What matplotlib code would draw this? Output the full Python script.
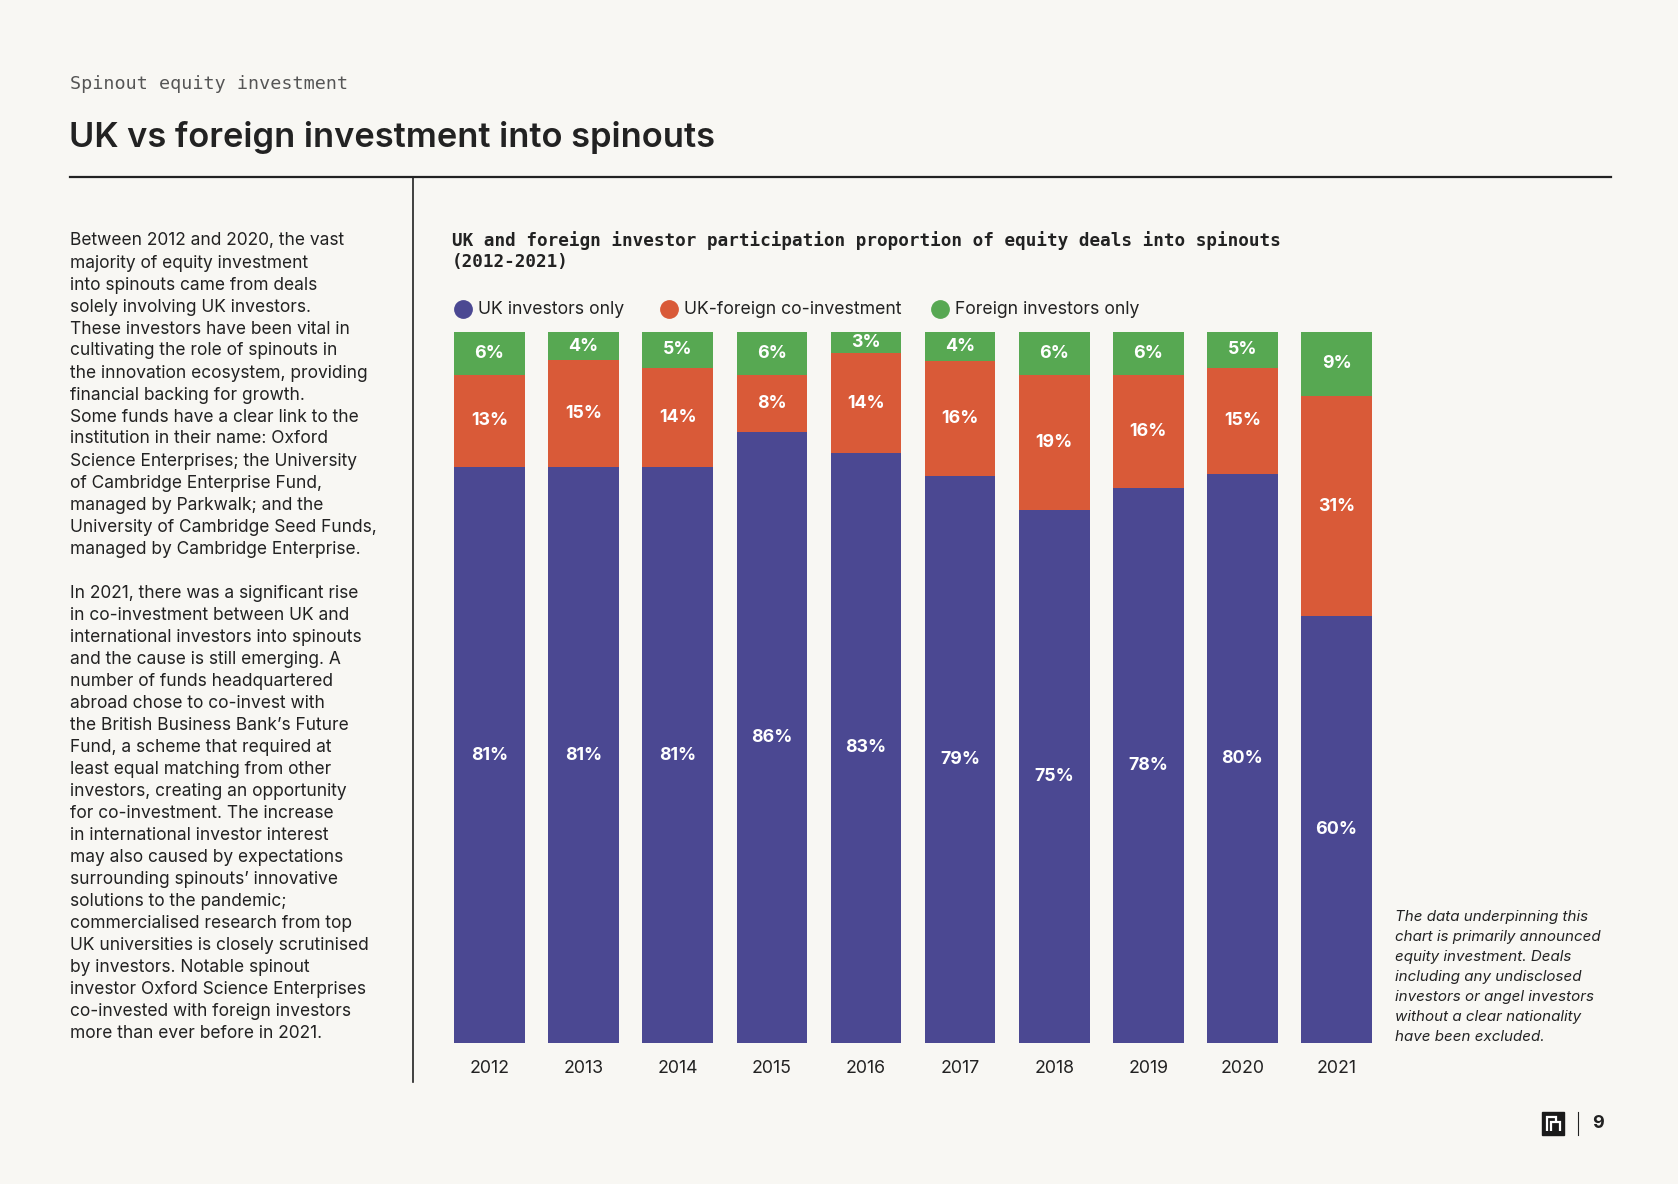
import matplotlib.pyplot as plt
from matplotlib.lines import Line2D
from matplotlib.patches import Rectangle
import numpy as np

# Data
years = ['2012', '2013', '2014', '2015', '2016', '2017', '2018', '2019', '2020', '2021']
uk_only = [81, 81, 81, 86, 83, 79, 75, 78, 80, 60]
co_invest = [13, 15, 14, 8, 14, 16, 19, 16, 15, 31]
foreign_only = [6, 4, 5, 6, 3, 4, 6, 6, 5, 9]
series_names = ['UK investors only', 'UK-foreign co-investment', 'Foreign investors only']

para1 = [
    "Between 2012 and 2020, the vast",
    "majority of equity investment",
    "into spinouts came from deals",
    "solely involving UK investors.",
    "These investors have been vital in",
    "cultivating the role of spinouts in",
    "the innovation ecosystem, providing",
    "financial backing for growth.",
    "Some funds have a clear link to the",
    "institution in their name: Oxford",
    "Science Enterprises; the University",
    "of Cambridge Enterprise Fund,",
    "managed by Parkwalk; and the",
    "University of Cambridge Seed Funds,",
    "managed by Cambridge Enterprise.",
]
para2 = [
    "In 2021, there was a significant rise",
    "in co-investment between UK and",
    "international investors into spinouts",
    "and the cause is still emerging. A",
    "number of funds headquartered",
    "abroad chose to co-invest with",
    "the British Business Bank\u2019s Future",
    "Fund, a scheme that required at",
    "least equal matching from other",
    "investors, creating an opportunity",
    "for co-investment. The increase",
    "in international investor interest",
    "may also caused by expectations",
    "surrounding spinouts\u2019 innovative",
    "solutions to the pandemic;",
    "commercialised research from top",
    "UK universities is closely scrutinised",
    "by investors. Notable spinout",
    "investor Oxford Science Enterprises",
    "co-invested with foreign investors",
    "more than ever before in 2021.",
]
footnote = [
    "The data underpinning this",
    "chart is primarily announced",
    "equity investment. Deals",
    "including any undisclosed",
    "investors or angel investors",
    "without a clear nationality",
    "have been excluded.",
]

# Colours
bg = '#F8F7F3'
ink = '#222222'
colors = ['#4B4892', '#D95A38', '#57A852']

W, H = 1678, 1184
fig = plt.figure(figsize=(W / 100, H / 100), dpi=100, facecolor=bg)


def fx(px):
    return px / W


def fy(py):
    return 1 - py / H


sans = 'Inter'
mono = 'DejaVu Sans Mono'

# Header
fig.text(fx(70), fy(84), "Spinout equity investment", family=mono, fontsize=13.2,
         color='#555555', va='center', ha='left')
fig.text(fx(69), fy(137), "UK vs foreign investment into spinouts", family=sans,
         fontsize=24.8, fontweight='semibold', color=ink, va='center', ha='left')
fig.add_artist(Line2D([fx(70), fx(1611)], [fy(177), fy(177)], color=ink, lw=1.6))
fig.add_artist(Line2D([fx(413), fx(413)], [fy(177), fy(1082)], color=ink, lw=1.2))

# Left column text
for i, line in enumerate(para1):
    fig.text(fx(70), fy(241 + 22 * i), line, family=sans, fontsize=12.5, color=ink,
             va='center', ha='left')
for i, line in enumerate(para2):
    fig.text(fx(70), fy(593 + 22 * i), line, family=sans, fontsize=12.5, color=ink,
             va='center', ha='left')

# Chart title
fig.text(fx(452), fy(241), "UK and foreign investor participation proportion of equity deals into spinouts",
         family=mono, fontsize=12.7, fontweight='bold', color=ink, va='center', ha='left')
fig.text(fx(452), fy(262), "(2012-2021)", family=mono, fontsize=12.7, fontweight='bold',
         color=ink, va='center', ha='left')

# Bars
ax = fig.add_axes([fx(442.5), fy(1043), fx(1383.6) - fx(442.5), fy(332) - fy(1043)])
ax.set_facecolor(bg)
x = np.arange(len(years))
stack = np.array([uk_only, co_invest, foreign_only], dtype=float)
shares = stack / stack.sum(axis=0) * 100
bottom = np.zeros(len(years))
for k in range(3):
    ax.bar(x, shares[k], 0.75, bottom=bottom, color=colors[k], edgecolor='none')
    for i in range(len(years)):
        ax.text(x[i], bottom[i] + shares[k][i] / 2, f"{int(stack[k][i])}%", color='white',
                fontsize=12.8, fontweight='bold', family=sans, ha='center', va='center')
    bottom += shares[k]

ax.set_xlim(-0.5, len(years) - 0.5)
ax.set_ylim(0, 100)
ax.set_yticks([])
ax.set_xticks(x)
ax.set_xticklabels(years, family=sans, fontsize=12.8, color=ink)
ax.tick_params(axis='x', length=0, pad=12)
for s in ax.spines.values():
    s.set_visible(False)

# Legend (manual placement)
legend_x = [463, 669, 940]
for lx, c, name in zip(legend_x, colors, series_names):
    fig.add_artist(Line2D([fx(lx)], [fy(309)], marker='o', markersize=12.5, color=c,
                          linestyle='none'))
    fig.text(fx(lx + 15), fy(309), name, family=sans, fontsize=12.7, color=ink,
             va='center', ha='left')

# Footnote
for i, line in enumerate(footnote):
    fig.text(fx(1395), fy(917 + 20 * i), line, family=sans, fontsize=10.9, style='italic',
             color=ink, va='center', ha='left')

# Page marker
fig.add_artist(Rectangle((fx(1542), fy(1135)), fx(22), 23 / H, color='#1a1a1a'))
fig.add_artist(Line2D([fx(1546.5), fx(1546.5), fx(1556), fx(1556)],
                      [fy(1131), fy(1117), fy(1117), fy(1121)], color='white', lw=1.6,
                      solid_capstyle='butt', solid_joinstyle='miter'))
fig.add_artist(Line2D([fx(1551), fx(1551), fx(1559.5), fx(1559.5)],
                      [fy(1131), fy(1122), fy(1122), fy(1131)], color='white', lw=1.6,
                      solid_capstyle='butt', solid_joinstyle='miter'))
fig.add_artist(Line2D([fx(1578), fx(1578)], [fy(1112), fy(1135)], color=ink, lw=0.8))
fig.text(fx(1598), fy(1124), "9", family=sans, fontsize=13, fontweight='bold', color=ink,
         va='center', ha='center')

fig.savefig('out.png', dpi=100, facecolor=bg)
